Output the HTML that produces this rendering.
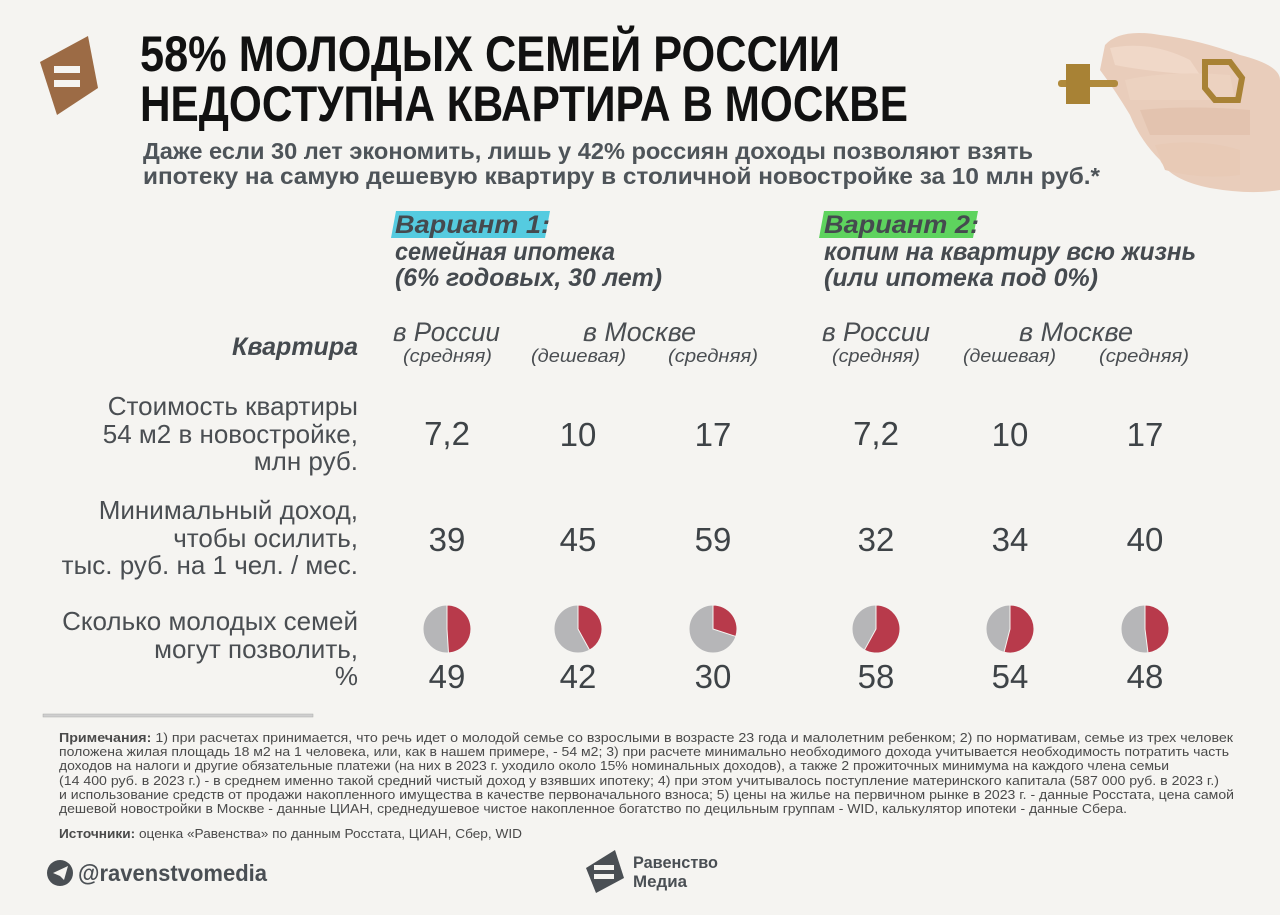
<!DOCTYPE html>
<html><head><meta charset="utf-8"><style>
html,body{margin:0;padding:0;background:#f5f4f1;}
svg{display:block;}
text{font-family:"Liberation Sans Narrow","Liberation Sans","DejaVu Sans Condensed",sans-serif;}
.t{font-weight:bold;fill:#111;font-size:50px;}
.s{font-weight:bold;fill:#4e5459;font-size:23px;}
.v{font-weight:bold;font-style:italic;fill:#454a4f;font-size:25px;}
.h{font-style:italic;fill:#4a4e52;font-size:27px;}
.hs{font-style:italic;fill:#4a4e52;font-size:18px;}
.r{fill:#4a4e52;font-size:26px;}
.n{fill:#3e4347;font-size:33px;}
.nt{fill:#4a4a4a;font-size:13px;}
</style></head><body>
<svg width="1280" height="915" viewBox="0 0 1280 915" xmlns="http://www.w3.org/2000/svg">
<rect width="1280" height="915" fill="#f5f4f1"/>
<!-- logo -->
<polygon points="40,62 88,36 98,88 57,115" fill="#9c6b45"/>
<rect x="54" y="66" width="26" height="7" fill="#f5f4f1"/>
<rect x="54" y="80" width="26" height="7" fill="#f5f4f1"/>
<!-- hand -->
<g>
<path d="M1105,45 Q1120,28 1160,35 Q1200,40 1240,55 Q1280,65 1280,80 L1280,190 Q1250,195 1210,188 Q1170,180 1160,160 Q1140,140 1130,115 Q1115,90 1100,70 Z" fill="#e9cdbb"/>
<path d="M1110,48 Q1150,40 1190,60 L1200,75 Q1150,72 1115,65 Z" fill="#f0d8c8"/>
<path d="M1125,80 Q1170,70 1230,75 L1235,100 Q1180,100 1130,100 Z" fill="#ecd2c0"/>
<path d="M1140,110 Q1190,105 1250,110 L1250,135 Q1190,135 1150,135 Z" fill="#e3c3af"/>
<path d="M1155,145 Q1200,138 1240,150 L1240,175 Q1200,180 1165,170 Z" fill="#e8cab6"/>
<rect x="1058" y="80" width="60" height="7" rx="3" fill="#b08a3c"/>
<rect x="1066" y="64" width="24" height="40" fill="#a88235"/>
<polygon points="1205,62 1230,62 1242,78 1238,100 1215,100 1205,88" fill="none" stroke="#a88235" stroke-width="6"/>
</g>
<!-- title -->
<text class="t" x="140" y="71" textLength="700" lengthAdjust="spacingAndGlyphs">58% МОЛОДЫХ СЕМЕЙ РОССИИ</text>
<text class="t" x="140" y="121" textLength="768" lengthAdjust="spacingAndGlyphs">НЕДОСТУПНА КВАРТИРА В МОСКВЕ</text>
<text class="s" x="143" y="159" textLength="890" lengthAdjust="spacingAndGlyphs">Даже если 30 лет экономить, лишь у 42% россиян доходы позволяют взять</text>
<text class="s" x="143" y="184" textLength="957" lengthAdjust="spacingAndGlyphs">ипотеку на самую дешевую квартиру в столичной новостройке за 10 млн руб.*</text>
<!-- variants -->
<polygon points="396,211 550,211 545,238 391,238" fill="#55cbe0"/>
<text class="v" x="395" y="233" textLength="155" lengthAdjust="spacingAndGlyphs">Вариант 1:</text>
<text class="v" x="395" y="260" textLength="220" lengthAdjust="spacingAndGlyphs">семейная ипотека</text>
<text class="v" x="395" y="286" textLength="267" lengthAdjust="spacingAndGlyphs">(6% годовых, 30 лет)</text>
<polygon points="824,211 978,211 973,238 819,238" fill="#5ed35e"/>
<text class="v" x="824" y="233" textLength="155" lengthAdjust="spacingAndGlyphs">Вариант 2:</text>
<text class="v" x="824" y="260" textLength="372" lengthAdjust="spacingAndGlyphs">копим на квартиру всю жизнь</text>
<text class="v" x="824" y="286" textLength="274" lengthAdjust="spacingAndGlyphs">(или ипотека под 0%)</text>
<!-- column headers -->
<text class="v" x="358" y="355" text-anchor="end" font-size="25">Квартира</text>
<text class="h" x="393" y="341" textLength="107" lengthAdjust="spacingAndGlyphs">в России</text>
<text class="hs" x="403" y="362" textLength="89" lengthAdjust="spacingAndGlyphs">(средняя)</text>
<text class="h" x="583" y="341" textLength="113" lengthAdjust="spacingAndGlyphs">в Москве</text>
<text class="hs" x="531" y="362" textLength="95" lengthAdjust="spacingAndGlyphs">(дешевая)</text>
<text class="hs" x="668" y="362" textLength="90" lengthAdjust="spacingAndGlyphs">(средняя)</text>
<text class="h" x="822" y="341" textLength="108" lengthAdjust="spacingAndGlyphs">в России</text>
<text class="hs" x="832" y="362" textLength="88" lengthAdjust="spacingAndGlyphs">(средняя)</text>
<text class="h" x="1019" y="341" textLength="114" lengthAdjust="spacingAndGlyphs">в Москве</text>
<text class="hs" x="963" y="362" textLength="93" lengthAdjust="spacingAndGlyphs">(дешевая)</text>
<text class="hs" x="1099" y="362" textLength="90" lengthAdjust="spacingAndGlyphs">(средняя)</text>
<!-- row labels -->
<g class="r" text-anchor="end">
<text class="r" x="358" y="415">Стоимость квартиры</text>
<text class="r" x="358" y="443">54 м2 в новостройке,</text>
<text class="r" x="358" y="470">млн руб.</text>
<text class="r" x="358" y="519">Минимальный доход,</text>
<text class="r" x="358" y="547">чтобы осилить,</text>
<text class="r" x="358" y="574">тыс. руб. на 1 чел. / мес.</text>
<text class="r" x="358" y="630">Сколько молодых семей</text>
<text class="r" x="358" y="658">могут позволить,</text>
<text class="r" x="358" y="685">%</text>
</g>
<!-- values -->
<g class="n" text-anchor="middle">
<text class="n" x="447" y="445">7,2</text><text class="n" x="578" y="446">10</text><text class="n" x="713" y="446">17</text>
<text class="n" x="876" y="445">7,2</text><text class="n" x="1010" y="446">10</text><text class="n" x="1145" y="446">17</text>
<text class="n" x="447" y="551">39</text><text class="n" x="578" y="551">45</text><text class="n" x="713" y="551">59</text>
<text class="n" x="876" y="551">32</text><text class="n" x="1010" y="551">34</text><text class="n" x="1145" y="551">40</text>
<text class="n" x="447" y="688">49</text><text class="n" x="578" y="688">42</text><text class="n" x="713" y="688">30</text>
<text class="n" x="876" y="688">58</text><text class="n" x="1010" y="688">54</text><text class="n" x="1145" y="688">48</text>
</g>
<!-- pies -->
<g stroke="#f5f4f1" stroke-width="1">
<circle cx="447" cy="629" r="24" fill="#b6b6b8"/><path d="M447,629 L447,605 A24,24 0 0 1 448.5,652.95 Z" fill="#b83a4b"/>
<circle cx="578" cy="629" r="24" fill="#b6b6b8"/><path d="M578,629 L578,605 A24,24 0 0 1 589.56,650.03 Z" fill="#b83a4b"/>
<circle cx="713" cy="629" r="24" fill="#b6b6b8"/><path d="M713,629 L713,605 A24,24 0 0 1 735.83,636.42 Z" fill="#b83a4b"/>
<circle cx="876" cy="629" r="24" fill="#b6b6b8"/><path d="M876,629 L876,605 A24,24 0 1 1 864.44,650.03 Z" fill="#b83a4b"/>
<circle cx="1010" cy="629" r="24" fill="#b6b6b8"/><path d="M1010,629 L1010,605 A24,24 0 1 1 1004.03,652.25 Z" fill="#b83a4b"/>
<circle cx="1145" cy="629" r="24" fill="#b6b6b8"/><path d="M1145,629 L1145,605 A24,24 0 0 1 1148,652.81 Z" fill="#b83a4b"/>
</g>
<!-- separator -->
<rect x="43" y="714" width="270" height="3" fill="#cfcfcf" stroke="#aaa" stroke-width="0.5"/>
<!-- notes -->
<text class="nt" x="59" y="742" textLength="1174" lengthAdjust="spacingAndGlyphs"><tspan font-weight="bold">Примечания:</tspan> 1) при расчетах принимается, что речь идет о молодой семье со взрослыми в возрасте 23 года и малолетним ребенком; 2) по нормативам, семье из трех человек</text>
<text class="nt" x="59" y="756" textLength="1170" lengthAdjust="spacingAndGlyphs">положена жилая площадь 18 м2 на 1 человека, или, как в нашем примере, - 54 м2; 3) при расчете минимально необходимого дохода учитывается необходимость потратить часть</text>
<text class="nt" x="59" y="770" textLength="1110" lengthAdjust="spacingAndGlyphs">доходов на налоги и другие обязательные платежи (на них в 2023 г. уходило около 15% номинальных доходов), а также 2 прожиточных минимума на каждого члена семьи</text>
<text class="nt" x="59" y="785" textLength="1160" lengthAdjust="spacingAndGlyphs">(14 400 руб. в 2023 г.) - в среднем именно такой средний чистый доход у взявших ипотеку; 4) при этом учитывалось поступление материнского капитала (587 000 руб. в 2023 г.)</text>
<text class="nt" x="59" y="799" textLength="1175" lengthAdjust="spacingAndGlyphs">и использование средств от продажи накопленного имущества в качестве первоначального взноса; 5) цены на жилье на первичном рынке в 2023 г. - данные Росстата, цена самой</text>
<text class="nt" x="59" y="813" textLength="1068" lengthAdjust="spacingAndGlyphs">дешевой новостройки в Москве - данные ЦИАН, среднедушевое чистое накопленное богатство по децильным группам - WID, калькулятор ипотеки - данные Сбера.</text>
<text class="nt" x="59" y="838" textLength="463" lengthAdjust="spacingAndGlyphs"><tspan font-weight="bold">Источники:</tspan> оценка «Равенства» по данным Росстата, ЦИАН, Сбер, WID</text>
<!-- footer -->
<circle cx="60" cy="873" r="13" fill="#4a4f54"/>
<polygon points="53,873 68,866 64,880 60,876" fill="#f5f4f1"/>
<text x="78" y="881" font-size="23" font-weight="bold" fill="#4a4f54" textLength="189" lengthAdjust="spacingAndGlyphs">@ravenstvomedia</text>
<polygon points="586,868 615,850 624,878 596,893" fill="#4a4f54"/>
<rect x="594" y="865" width="20" height="5" fill="#f5f4f1"/>
<rect x="594" y="874" width="20" height="5" fill="#f5f4f1"/>
<text x="633" y="868" font-size="17" font-weight="bold" fill="#4a4f54" textLength="85" lengthAdjust="spacingAndGlyphs">Равенство</text>
<text x="633" y="887" font-size="17" font-weight="bold" fill="#4a4f54" textLength="54" lengthAdjust="spacingAndGlyphs">Медиа</text>
</svg>
</body></html>
